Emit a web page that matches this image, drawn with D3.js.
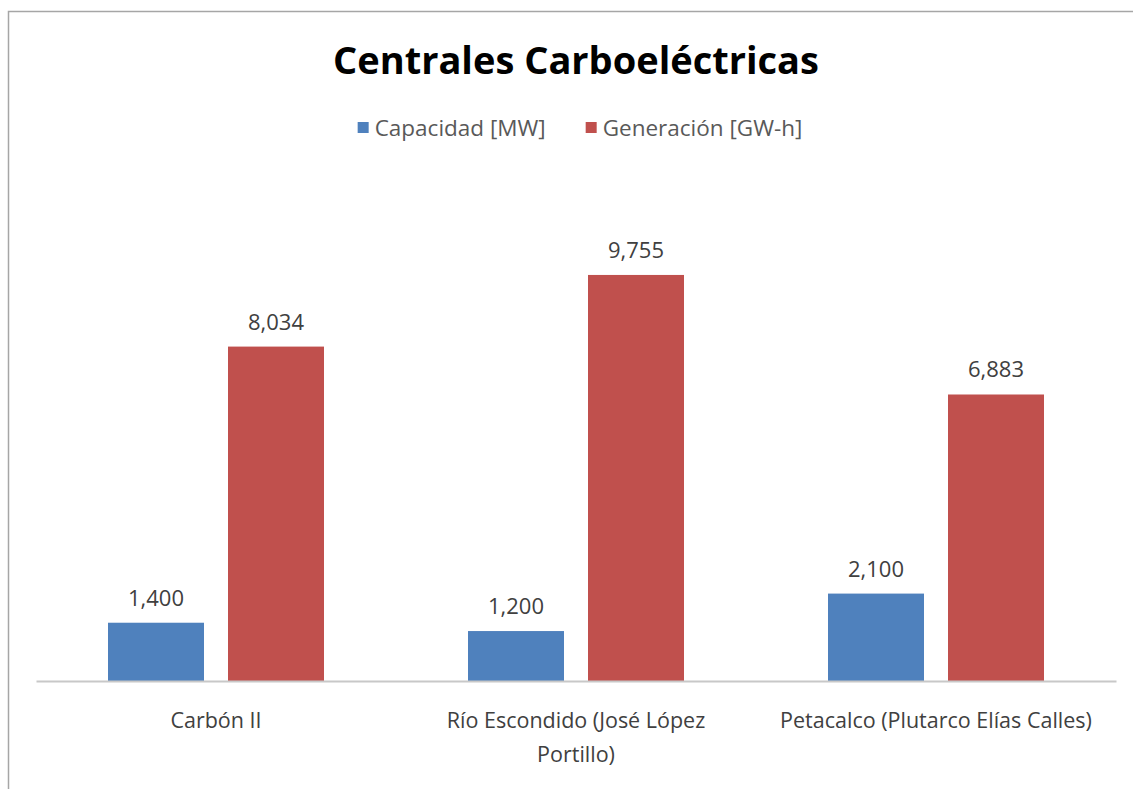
<!DOCTYPE html>
<html>
<head>
<meta charset="utf-8">
<script src="https://cdn.jsdelivr.net/npm/d3@7"></script>
<style>
  body { margin: 0; background: #fff; }
  text { font-family: "Open Sans", "Noto Sans", sans-serif; }
</style>
</head>
<body>
<svg id="chart" width="1133" height="789"></svg>
<script>
// data
var categories = [["Carbón II"], ["Río Escondido (José López", "Portillo)"], ["Petacalco (Plutarco Elías Calles)"]];
var seriesNames = ["Capacidad [MW]", "Generación [GW-h]"];
var capacidad = [1400, 1200, 2100];
var generacion = [8034, 9755, 6883];
var colors = ["#4F81BD", "#C0504D"];

var svg = d3.select("#chart"),
    WIDTH = 1133,
    HEIGHT = 789,
    MARGINS = { top: 181.5, right: 17, bottom: 108, left: 36 };

var values = [capacidad, generacion];
var catKeys = categories.map(function(c) { return c.join(" "); });

// frame
svg.append("path")
  .attr("d", "M8.5," + (HEIGHT + 2) + "V11.5H" + (WIDTH + 2))
  .attr("fill", "none")
  .attr("stroke", "#a6a6a6")
  .attr("stroke-width", 1.5);

var x0 = d3.scaleBand()
  .domain(catKeys)
  .range([MARGINS.left, WIDTH - MARGINS.right]);

var x1 = d3.scaleBand()
  .domain(seriesNames)
  .range([x0.bandwidth() * 0.2, x0.bandwidth() * 0.8])
  .paddingInner(0.2);

var yScale = d3.scaleLinear()
  .domain([0, 12000])
  .range([HEIGHT - MARGINS.bottom, MARGINS.top]);

// bars
var groups = svg.selectAll("g.grp")
  .data(catKeys)
  .enter().append("g")
  .attr("class", "grp")
  .attr("transform", function(d) { return "translate(" + x0(d) + ",0)"; });

groups.selectAll("rect")
  .data(function(d, i) {
    return seriesNames.map(function(s, j) { return { s: s, j: j, v: values[j][i] }; });
  })
  .enter().append("rect")
  .attr("x", function(d) { return x1(d.s); })
  .attr("y", function(d) { return yScale(d.v); })
  .attr("width", x1.bandwidth())
  .attr("height", function(d) { return yScale(0) - yScale(d.v); })
  .attr("fill", function(d) { return colors[d.j]; });

// data labels
groups.selectAll("text.val")
  .data(function(d, i) {
    return seriesNames.map(function(s, j) { return { s: s, v: values[j][i] }; });
  })
  .enter().append("text")
  .attr("class", "val")
  .attr("x", function(d) { return x1(d.s) + x1.bandwidth() / 2; })
  .attr("y", function(d) { return yScale(d.v) - 17; })
  .attr("text-anchor", "middle")
  .attr("font-size", 22)
  .attr("fill", "#404040")
  .text(function(d) { return d3.format(",")(d.v); });

// x axis
var xAxis = d3.axisBottom(x0).tickSize(0).tickSizeOuter(0).tickFormat("");
var axG = svg.append("g")
  .attr("transform", "translate(0," + yScale(0) + ")")
  .call(xAxis);
axG.select(".domain").attr("stroke", "#c8c8c8").attr("stroke-width", 2);

axG.selectAll(".tick").each(function(d, i) {
  var t = d3.select(this).append("text")
    .attr("text-anchor", "middle")
    .attr("font-size", 21.5)
    .attr("fill", "#404040");
  categories[i].forEach(function(line, k) {
    t.append("tspan").attr("x", 0).attr("y", 47 + k * 34).text(line);
  });
});

// title
svg.append("text")
  .attr("x", 576)
  .attr("y", 74)
  .attr("text-anchor", "middle")
  .attr("font-size", 38)
  .attr("font-weight", "bold")
  .attr("fill", "#000")
  .text("Centrales Carboeléctricas");

// legend
var legend = svg.append("g");
var lx = 0;
seriesNames.forEach(function(s, j) {
  var item = legend.append("g").attr("transform", "translate(" + lx + ",0)");
  item.append("rect").attr("x", 0).attr("y", -6).attr("width", 11).attr("height", 11).attr("fill", colors[j]);
  var t = item.append("text").attr("x", 17).attr("y", 7.5)
    .attr("font-size", 22.5).attr("fill", "#595959").text(s);
  lx += 17 + t.node().getComputedTextLength() + 40;
});
var lw = lx - 40;
legend.attr("transform", "translate(" + (580 - lw / 2) + ",128)");
</script>
</body>
</html>
